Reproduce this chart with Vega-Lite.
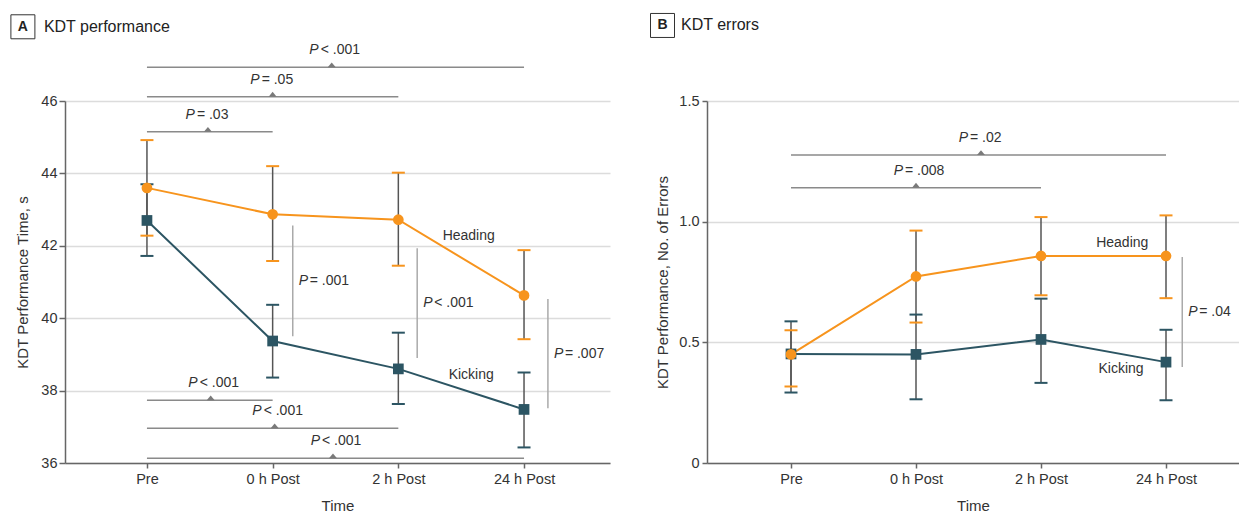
{
  "$schema": "https://vega.github.io/schema/vega-lite/v6.json",
  "padding": {"left": 8, "top": 11, "right": 0, "bottom": 0},
  "autosize": {"type": "pad"},
  "background": "white",
  "spacing": 97,
  "bounds": "flush",
  "config": {
    "font": "Liberation Sans",
    "view": {"stroke": null},
    "axis": {
      "domainColor": "#666", "domainWidth": 1.5,
      "tickColor": "#666", "tickWidth": 1.5, "tickSize": 6,
      "labelFontSize": 14.5, "labelColor": "#333",
      "titleFontSize": 15, "titleFontWeight": "normal", "titleColor": "#333",
      "gridColor": "#dcdcdc", "gridWidth": 1.5
    },
    "text": {"fontSize": 14, "color": "#333"}
  },
  "datasets": {
    "perf": [
      {"group": "Heading", "t": 0, "mean": 43.6, "lo": 42.28, "hi": 44.92},
      {"group": "Heading", "t": 1, "mean": 42.87, "lo": 41.58, "hi": 44.2},
      {"group": "Heading", "t": 2, "mean": 42.72, "lo": 41.45, "hi": 44.02},
      {"group": "Heading", "t": 3, "mean": 40.63, "lo": 39.42, "hi": 41.88},
      {"group": "Kicking", "t": 0, "mean": 42.7, "lo": 41.72, "hi": 43.7},
      {"group": "Kicking", "t": 1, "mean": 39.37, "lo": 38.36, "hi": 40.37},
      {"group": "Kicking", "t": 2, "mean": 38.6, "lo": 37.63, "hi": 39.6},
      {"group": "Kicking", "t": 3, "mean": 37.48, "lo": 36.43, "hi": 38.5}
    ],
    "errs": [
      {"group": "Heading", "t": 0, "mean": 0.45, "lo": 0.317, "hi": 0.55},
      {"group": "Heading", "t": 1, "mean": 0.773, "lo": 0.582, "hi": 0.963},
      {"group": "Heading", "t": 2, "mean": 0.858, "lo": 0.695, "hi": 1.019},
      {"group": "Heading", "t": 3, "mean": 0.858, "lo": 0.683, "hi": 1.026},
      {"group": "Kicking", "t": 0, "mean": 0.452, "lo": 0.292, "hi": 0.587},
      {"group": "Kicking", "t": 1, "mean": 0.45, "lo": 0.264, "hi": 0.615},
      {"group": "Kicking", "t": 2, "mean": 0.512, "lo": 0.332, "hi": 0.681},
      {"group": "Kicking", "t": 3, "mean": 0.418, "lo": 0.26, "hi": 0.552}
    ],
    "labA": [
      {"x": 2.56, "y": 42.28, "text": "Heading"},
      {"x": 2.58, "y": 38.42, "text": "Kicking"}
    ],
    "labB": [
      {"x": 2.65, "y": 0.912, "text": "Heading"},
      {"x": 2.64, "y": 0.39, "text": "Kicking"}
    ],
    "brA": [
      {"x1": 0, "x2": 1, "y": 45.15, "mid": 0.485, "rel": "= .03"},
      {"x1": 0, "x2": 2, "y": 46.12, "mid": 1.0, "rel": "= .05"},
      {"x1": 0, "x2": 3, "y": 46.93, "mid": 1.47, "rel": "< .001"},
      {"x1": 0, "x2": 1, "y": 37.73, "mid": 0.507, "rel": "< .001"},
      {"x1": 0, "x2": 2, "y": 36.96, "mid": 1.016, "rel": "< .001"},
      {"x1": 0, "x2": 3, "y": 36.13, "mid": 1.48, "rel": "< .001"}
    ],
    "vA": [
      {"x": 1.16, "y1": 42.56, "y2": 39.5, "ym": 41.03, "rel": "= .001"},
      {"x": 2.15, "y1": 41.93, "y2": 38.9, "ym": 40.42, "rel": "< .001"},
      {"x": 3.19, "y1": 40.53, "y2": 37.51, "ym": 39.02, "rel": "= .007"}
    ],
    "brB": [
      {"x1": 0, "x2": 3, "y": 1.276, "mid": 1.52, "rel": "= .02"},
      {"x1": 0, "x2": 2, "y": 1.141, "mid": 1.0, "rel": "= .008"}
    ],
    "vB": [
      {"x": 3.13, "y1": 0.854, "y2": 0.398, "ym": 0.626, "rel": "= .04"}
    ],
    "headA": [{"x": -0.987, "tx": -0.82, "y": 48.05, "letter": "A", "title": "KDT performance"}],
    "headB": [{"x": -1.028, "tx": -0.88, "y": 1.813, "letter": "B", "title": "KDT errors"}]
  },
  "hconcat": [
    {
      "width": 545,
      "height": 362,
      "layer": [
        {
          "data": {"name": "perf"},
          "mark": {"type": "rule", "color": "#555", "strokeWidth": 1.5},
          "encoding": {
            "x": {"field": "t", "type": "quantitative",
              "scale": {"domain": [-0.652, 3.684], "nice": false, "zero": false},
              "axis": {"title": "Time", "values": [0, 1, 2, 3], "grid": false,
                "labelExpr": "['Pre','0 h Post','2 h Post','24 h Post'][datum.value]",
                "tickSize": 5, "labelPadding": 4, "titlePadding": 13}},
            "y": {"field": "lo", "type": "quantitative",
              "scale": {"domain": [36, 46], "nice": false, "zero": false},
              "axis": {"title": "KDT Performance Time, s", "values": [36, 38, 40, 42, 44, 46],
                "grid": true, "labelPadding": 2, "titlePadding": 10}},
            "y2": {"field": "hi"}
          }
        },
        {
          "data": {"name": "perf"},
          "mark": {"type": "tick", "orient": "horizontal", "size": 13, "thickness": 2, "opacity": 1},
          "encoding": {
            "x": {"field": "t", "type": "quantitative"},
            "y": {"field": "lo", "type": "quantitative"},
            "color": {"field": "group", "type": "nominal", "scale": {"domain": ["Heading", "Kicking"], "range": ["#f7941d", "#2c5563"]}, "legend": null}
          }
        },
        {
          "data": {"name": "perf"},
          "mark": {"type": "tick", "orient": "horizontal", "size": 13, "thickness": 2, "opacity": 1},
          "encoding": {
            "x": {"field": "t", "type": "quantitative"},
            "y": {"field": "hi", "type": "quantitative"},
            "color": {"field": "group", "type": "nominal", "legend": null}
          }
        },
        {
          "data": {"name": "perf"},
          "mark": {"type": "line", "strokeWidth": 2},
          "encoding": {
            "x": {"field": "t", "type": "quantitative"},
            "y": {"field": "mean", "type": "quantitative"},
            "color": {"field": "group", "type": "nominal", "legend": null}
          }
        },
        {
          "data": {"name": "perf"},
          "mark": {"type": "point", "filled": true, "size": 115, "opacity": 1},
          "encoding": {
            "x": {"field": "t", "type": "quantitative"},
            "y": {"field": "mean", "type": "quantitative"},
            "color": {"field": "group", "type": "nominal", "legend": null},
            "shape": {"field": "group", "type": "nominal", "scale": {"domain": ["Heading", "Kicking"], "range": ["circle", "square"]}, "legend": null}
          }
        },
        {
          "data": {"name": "labA"},
          "mark": {"type": "text", "align": "center", "baseline": "middle"},
          "encoding": {
            "x": {"field": "x", "type": "quantitative"},
            "y": {"field": "y", "type": "quantitative"},
            "text": {"field": "text"}
          }
        },
        {
          "data": {"name": "brA"},
          "mark": {"type": "rule", "color": "#8a8a8a", "strokeWidth": 1.5},
          "encoding": {
            "x": {"field": "x1", "type": "quantitative"},
            "x2": {"field": "x2"},
            "y": {"field": "y", "type": "quantitative"}
          }
        },
        {
          "data": {"name": "brA"},
          "mark": {"type": "point", "shape": "M-1,0L1,0L0,-1.2Z", "filled": true, "size": 64, "color": "#7a7a7a", "opacity": 1},
          "encoding": {
            "x": {"field": "mid", "type": "quantitative"},
            "y": {"field": "y", "type": "quantitative"}
          }
        },
        {
          "data": {"name": "brA"},
          "mark": {"type": "text", "text": "P", "fontStyle": "italic", "align": "right", "baseline": "middle", "dx": -13, "dy": -17},
          "encoding": {
            "x": {"field": "mid", "type": "quantitative"},
            "y": {"field": "y", "type": "quantitative"}
          }
        },
        {
          "data": {"name": "brA"},
          "mark": {"type": "text", "align": "left", "baseline": "middle", "dx": -11, "dy": -17},
          "encoding": {
            "x": {"field": "mid", "type": "quantitative"},
            "y": {"field": "y", "type": "quantitative"},
            "text": {"field": "rel"}
          }
        },
        {
          "data": {"name": "vA"},
          "mark": {"type": "rule", "color": "#aaaaaa", "strokeWidth": 1.5},
          "encoding": {
            "x": {"field": "x", "type": "quantitative"},
            "y": {"field": "y1", "type": "quantitative"},
            "y2": {"field": "y2"}
          }
        },
        {
          "data": {"name": "vA"},
          "mark": {"type": "text", "text": "P", "fontStyle": "italic", "align": "left", "baseline": "middle", "dx": 6},
          "encoding": {
            "x": {"field": "x", "type": "quantitative"},
            "y": {"field": "ym", "type": "quantitative"}
          }
        },
        {
          "data": {"name": "vA"},
          "mark": {"type": "text", "align": "left", "baseline": "middle", "dx": 17},
          "encoding": {
            "x": {"field": "x", "type": "quantitative"},
            "y": {"field": "ym", "type": "quantitative"},
            "text": {"field": "rel"}
          }
        },
        {
          "data": {"name": "headA"},
          "mark": {"type": "point", "shape": "square", "filled": false, "size": 576, "stroke": "#333", "strokeWidth": 1, "opacity": 1},
          "encoding": {"x": {"field": "x", "type": "quantitative"}, "y": {"field": "y", "type": "quantitative"}}
        },
        {
          "data": {"name": "headA"},
          "mark": {"type": "text", "fontWeight": "bold", "fontSize": 14, "align": "center", "baseline": "middle", "color": "#222"},
          "encoding": {"x": {"field": "x", "type": "quantitative"}, "y": {"field": "y", "type": "quantitative"}, "text": {"field": "letter"}}
        },
        {
          "data": {"name": "headA"},
          "mark": {"type": "text", "fontSize": 16, "align": "left", "baseline": "middle", "color": "#222"},
          "encoding": {"x": {"field": "tx", "type": "quantitative"}, "y": {"field": "y", "type": "quantitative"}, "text": {"field": "title"}}
        }
      ]
    },
    {
      "width": 532,
      "height": 362,
      "layer": [
        {
          "data": {"name": "errs"},
          "mark": {"type": "rule", "color": "#555", "strokeWidth": 1.5},
          "encoding": {
            "x": {"field": "t", "type": "quantitative",
              "scale": {"domain": [-0.672, 3.584], "nice": false, "zero": false},
              "axis": {"title": "Time", "values": [0, 1, 2, 3], "grid": false,
                "labelExpr": "['Pre','0 h Post','2 h Post','24 h Post'][datum.value]",
                "tickSize": 5, "labelPadding": 4, "titlePadding": 13}},
            "y": {"field": "lo", "type": "quantitative",
              "scale": {"domain": [0, 1.5], "nice": false},
              "axis": {"title": "KDT Performance, No. of Errors", "values": [0, 0.5, 1, 1.5],
                "labelExpr": "datum.value == 0 ? '0' : format(datum.value, '.1f')",
                "grid": true, "tickSize": 5, "labelPadding": 3, "titlePadding": 8}},
            "y2": {"field": "hi"}
          }
        },
        {
          "data": {"name": "errs"},
          "mark": {"type": "tick", "orient": "horizontal", "size": 13, "thickness": 2, "opacity": 1},
          "encoding": {
            "x": {"field": "t", "type": "quantitative"},
            "y": {"field": "lo", "type": "quantitative"},
            "color": {"field": "group", "type": "nominal", "scale": {"domain": ["Heading", "Kicking"], "range": ["#f7941d", "#2c5563"]}, "legend": null}
          }
        },
        {
          "data": {"name": "errs"},
          "mark": {"type": "tick", "orient": "horizontal", "size": 13, "thickness": 2, "opacity": 1},
          "encoding": {
            "x": {"field": "t", "type": "quantitative"},
            "y": {"field": "hi", "type": "quantitative"},
            "color": {"field": "group", "type": "nominal", "legend": null}
          }
        },
        {
          "data": {"name": "errs"},
          "mark": {"type": "line", "strokeWidth": 2},
          "encoding": {
            "x": {"field": "t", "type": "quantitative"},
            "y": {"field": "mean", "type": "quantitative"},
            "color": {"field": "group", "type": "nominal", "legend": null},
            "order": {"field": "group", "sort": "descending"}
          }
        },
        {
          "data": {"name": "errs"},
          "mark": {"type": "point", "filled": true, "size": 115, "opacity": 1},
          "encoding": {
            "x": {"field": "t", "type": "quantitative"},
            "y": {"field": "mean", "type": "quantitative"},
            "color": {"field": "group", "type": "nominal", "legend": null},
            "shape": {"field": "group", "type": "nominal", "scale": {"domain": ["Heading", "Kicking"], "range": ["circle", "square"]}, "legend": null},
            "order": {"field": "group", "sort": "descending"}
          }
        },
        {
          "data": {"name": "labB"},
          "mark": {"type": "text", "align": "center", "baseline": "middle"},
          "encoding": {
            "x": {"field": "x", "type": "quantitative"},
            "y": {"field": "y", "type": "quantitative"},
            "text": {"field": "text"}
          }
        },
        {
          "data": {"name": "brB"},
          "mark": {"type": "rule", "color": "#8a8a8a", "strokeWidth": 1.5},
          "encoding": {
            "x": {"field": "x1", "type": "quantitative"},
            "x2": {"field": "x2"},
            "y": {"field": "y", "type": "quantitative"}
          }
        },
        {
          "data": {"name": "brB"},
          "mark": {"type": "point", "shape": "M-1,0L1,0L0,-1.2Z", "filled": true, "size": 64, "color": "#7a7a7a", "opacity": 1},
          "encoding": {
            "x": {"field": "mid", "type": "quantitative"},
            "y": {"field": "y", "type": "quantitative"}
          }
        },
        {
          "data": {"name": "brB"},
          "mark": {"type": "text", "text": "P", "fontStyle": "italic", "align": "right", "baseline": "middle", "dx": -13, "dy": -17},
          "encoding": {
            "x": {"field": "mid", "type": "quantitative"},
            "y": {"field": "y", "type": "quantitative"}
          }
        },
        {
          "data": {"name": "brB"},
          "mark": {"type": "text", "align": "left", "baseline": "middle", "dx": -11, "dy": -17},
          "encoding": {
            "x": {"field": "mid", "type": "quantitative"},
            "y": {"field": "y", "type": "quantitative"},
            "text": {"field": "rel"}
          }
        },
        {
          "data": {"name": "vB"},
          "mark": {"type": "rule", "color": "#aaaaaa", "strokeWidth": 1.5},
          "encoding": {
            "x": {"field": "x", "type": "quantitative"},
            "y": {"field": "y1", "type": "quantitative"},
            "y2": {"field": "y2"}
          }
        },
        {
          "data": {"name": "vB"},
          "mark": {"type": "text", "text": "P", "fontStyle": "italic", "align": "left", "baseline": "middle", "dx": 6},
          "encoding": {
            "x": {"field": "x", "type": "quantitative"},
            "y": {"field": "ym", "type": "quantitative"}
          }
        },
        {
          "data": {"name": "vB"},
          "mark": {"type": "text", "align": "left", "baseline": "middle", "dx": 17},
          "encoding": {
            "x": {"field": "x", "type": "quantitative"},
            "y": {"field": "ym", "type": "quantitative"},
            "text": {"field": "rel"}
          }
        },
        {
          "data": {"name": "headB"},
          "mark": {"type": "point", "shape": "square", "filled": false, "size": 576, "stroke": "#333", "strokeWidth": 1, "opacity": 1},
          "encoding": {"x": {"field": "x", "type": "quantitative"}, "y": {"field": "y", "type": "quantitative"}}
        },
        {
          "data": {"name": "headB"},
          "mark": {"type": "text", "fontWeight": "bold", "fontSize": 14, "align": "center", "baseline": "middle", "color": "#222"},
          "encoding": {"x": {"field": "x", "type": "quantitative"}, "y": {"field": "y", "type": "quantitative"}, "text": {"field": "letter"}}
        },
        {
          "data": {"name": "headB"},
          "mark": {"type": "text", "fontSize": 16, "align": "left", "baseline": "middle", "color": "#222"},
          "encoding": {"x": {"field": "tx", "type": "quantitative"}, "y": {"field": "y", "type": "quantitative"}, "text": {"field": "title"}}
        }
      ]
    }
  ]
}
